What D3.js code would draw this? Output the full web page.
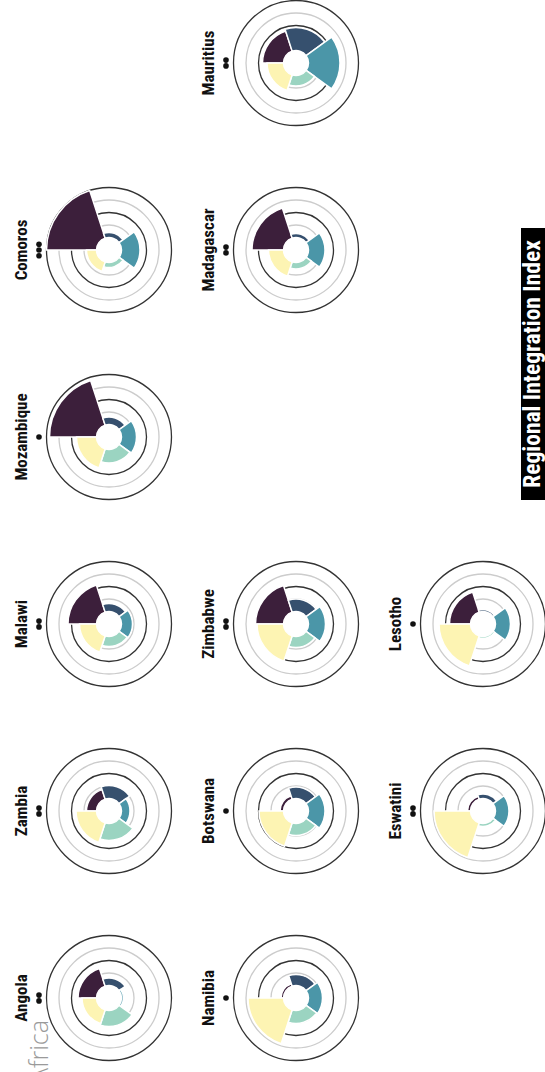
<!DOCTYPE html>
<html><head><meta charset="utf-8">
<script src="https://cdn.jsdelivr.net/npm/d3@7"></script>
<style>body{margin:0;background:#fff;overflow:hidden} svg{display:block}</style>
</head><body>
<svg id="chart" width="545" height="1072"></svg>
<script>
// ---- data ----
const countries = ["Angola","Zambia","Malawi","Mozambique","Comoros","Namibia","Botswana","Zimbabwe","Madagascar","Mauritius","Eswatini","Lesotho"];
const gridColumn = [0,1,2,3,4,0,1,2,4,5,1,2];
const gridRow    = [0,0,0,0,0,1,1,1,1,1,2,2];
const dots       = [2,2,2,1,3,1,1,2,2,2,2,1];
const dimensions = ["Dimension 1","Dimension 2","Dimension 3","Dimension 4","Dimension 5"];
const dim1 = [0.37,0.20,0.57,0.94,1.00,0.05,0.07,0.56,0.63,0.42,0.06,0.42];
const dim2 = [0.15,0.26,0.16,0.15,0.10,0.22,0.23,0.25,0.08,0.46,0.09,0.04];
const dim3 = [0.04,0.17,0.22,0.30,0.37,0.28,0.33,0.34,0.33,0.63,0.27,0.30];
const dim4 = [0.32,0.34,0.20,0.27,0.10,0.26,0.24,0.22,0.13,0.21,0.06,0.04];
const dim5 = [0.29,0.41,0.34,0.40,0.20,0.71,0.49,0.53,0.30,0.33,0.73,0.63];
const ringTicks = [0.25,0.5,0.75,1];
const titleText = "Regional Integration Index";
const regionText = "Africa";

// ---- build ----
const series = [dim1,dim2,dim3,dim4,dim5];
const colors = ["#3c1f3b","#36506e","#4b96a8","#9bd4c1","#fdf4b3"];
const color = d3.scaleOrdinal().domain(dimensions).range(colors);

const svg = d3.select("#chart");
const root = svg.append("g").attr("transform","translate(0,1072) rotate(-90)");

const x = d3.scalePoint().domain(d3.range(6)).range([74,1009]);
const y = d3.scalePoint().domain(d3.range(3)).range([109,483]);
const r = d3.scaleLinear().domain([0,1]).range([12.5,62.5]);
const angle = d3.scaleBand().domain(dimensions).range([0,2*Math.PI]).paddingInner(0).paddingOuter(0);

const arc = d3.arc()
  .innerRadius(r(0))
  .outerRadius(d=>r(d.value))
  .startAngle(d=>angle(d.dim))
  .endAngle(d=>angle(d.dim)+angle.bandwidth());

const font = "'Liberation Sans Narrow','Roboto Condensed','DejaVu Sans Condensed',sans-serif";

// faint region label, partly outside the frame
root.append("text").attr("x",52).attr("y",48)
  .attr("text-anchor","end")
  .attr("font-family","'Open Sans','Noto Sans',sans-serif").attr("font-weight",300)
  .attr("font-size",25).attr("fill","#9a9a9a").text(regionText);

countries.forEach((c,i)=>{
  const g = root.append("g").attr("transform",`translate(${x(gridColumn[i])},${y(gridRow[i])})`);
  g.selectAll("circle.ring").data(ringTicks).join("circle")
    .attr("class","ring")
    .attr("r",d=>r(d))
    .attr("fill","none")
    .attr("stroke",(d,k)=>k%2===0?"#cccccc":"#333")
    .attr("stroke-width",1.3);
  const data = dimensions.map((dim,k)=>({dim, value: series[k][i]}));
  g.selectAll("path").data(data).join("path")
    .attr("d",arc)
    .attr("fill",d=>color(d.dim))
    .attr("stroke","#fff")
    .attr("stroke-width",1.5);
  g.append("text")
    .attr("x",0).attr("y",-82)
    .attr("text-anchor","middle")
    .attr("font-family",font)
    .attr("font-weight","bold")
    .attr("font-size",17)
    .attr("fill","#111")
    .text(c);
  g.selectAll("circle.dot").data(d3.range(dots[i])).join("circle")
    .attr("class","dot")
    .attr("cx",k=>(k-(dots[i]-1)/2)*5.8)
    .attr("cy",-70)
    .attr("r",2.8)
    .attr("fill","#111");
});

// title
root.append("rect").attr("x",572).attr("y",521).attr("width",272).attr("height",40).attr("fill","#000");
root.append("text").attr("x",708).attr("y",540)
  .attr("text-anchor","middle")
  .attr("font-family",font).attr("font-weight","bold").attr("font-size",23.5)
  .attr("fill","#fff").text(titleText);
</script>
</body></html>
